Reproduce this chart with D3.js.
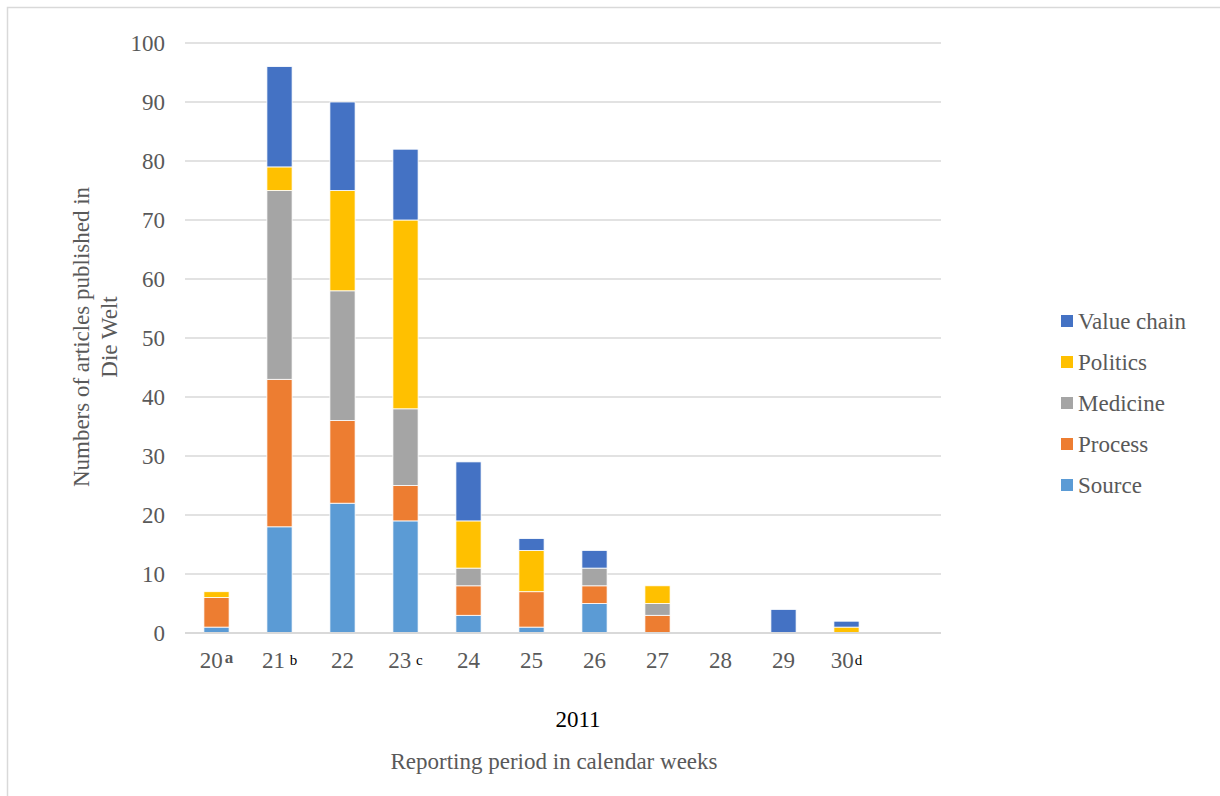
<!DOCTYPE html>
<html>
<head>
<meta charset="utf-8">
<script src="https://cdn.jsdelivr.net/npm/d3@7"></script>
<style>
  html, body { margin: 0; padding: 0; background: #fff; }
  svg { display: block; }
</style>
</head>
<body>
<svg id="chart" width="1220" height="796"></svg>
<script>
// Calendar weeks of 2011 (the last slot is left empty on the axis)
const weeks = ["20", "21", "22", "23", "24", "25", "26", "27", "28", "29", "30", "31"];
const weekNotes = ["a", "b", "", "c", "", "", "", "", "", "", "d", ""];
const weekLabels = ["20", "21", "22", "23", "24", "25", "26", "27", "28", "29", "30", ""];

// Articles per topic and week (stacked bottom to top)
const source     = [1, 18, 22, 19, 3, 1, 5, 0, 0, 0, 0, 0];
const process    = [5, 25, 14, 6, 5, 6, 3, 3, 0, 0, 0, 0];
const medicine   = [0, 32, 22, 13, 3, 0, 3, 2, 0, 0, 0, 0];
const politics   = [1, 4, 17, 32, 8, 7, 0, 3, 0, 0, 1, 0];
const valueChain = [0, 17, 15, 12, 10, 2, 3, 0, 0, 4, 1, 0];

const seriesNames = ["Source", "Process", "Medicine", "Politics", "Value chain"];
const seriesColors = ["#5B9BD5", "#ED7D31", "#A5A5A5", "#FFC000", "#4472C4"];
const yTicks = [0, 10, 20, 30, 40, 50, 60, 70, 80, 90, 100];

const FONT = "'Liberation Serif', 'Times New Roman', serif";
const FS = "23px";

const seriesValues = [source, process, medicine, politics, valueChain];
const rows = weeks.map((w, i) => {
  const r = { week: w };
  seriesNames.forEach((s, k) => { r[s] = seriesValues[k][i]; });
  return r;
});

const svg = d3.select("#chart").style("font-family", FONT);

// outer frame
svg.append("path")
  .attr("d", "M7.5,796 L7.5,7.5 L1220,7.5")
  .attr("fill", "none").attr("stroke", "#D9D9D9").attr("stroke-width", 1.5);

const plot = { left: 185, right: 941, top: 43, bottom: 633 };

const x = d3.scaleBand().domain(weeks).range([plot.left, plot.right]).paddingInner(0.6).paddingOuter(0.3);
const y = d3.scaleLinear().domain([0, 100]).range([plot.bottom, plot.top]);

// gridlines
svg.append("g")
  .selectAll("line").data(yTicks.filter(t => t > 0)).join("line")
  .attr("x1", plot.left).attr("x2", plot.right)
  .attr("y1", d => y(d)).attr("y2", d => y(d))
  .attr("stroke", "#D9D9D9").attr("stroke-width", 1.5);

// y axis labels
const yAxis = svg.append("g")
  .attr("transform", `translate(${plot.left},0)`)
  .call(d3.axisLeft(y).tickValues(yTicks).tickSize(0).tickPadding(20))
  .attr("font-family", null).attr("font-size", null);
yAxis.select(".domain").remove();
yAxis.selectAll("text")
  .attr("fill", "#595959").style("font-size", FS)
  .style("font-family", FONT);

// stacked bars
const stack = d3.stack().keys(seriesNames);
const layers = stack(rows);
const color = d3.scaleOrdinal().domain(seriesNames).range(seriesColors);

svg.append("g").selectAll("g").data(layers).join("g")
  .attr("fill", d => color(d.key))
  .selectAll("rect").data(d => d.filter(p => p[1] - p[0] > 0)).join("rect")
  .attr("x", d => x(d.data.week))
  .attr("width", x.bandwidth())
  .attr("y", d => y(d[1]))
  .attr("height", d => y(d[0]) - y(d[1]))
  .attr("stroke", "#ffffff").attr("stroke-width", 0.8);

// baseline
svg.append("line")
  .attr("x1", plot.left).attr("x2", plot.right)
  .attr("y1", y(0)).attr("y2", y(0))
  .attr("stroke", "#D9D9D9").attr("stroke-width", 2);

// x axis labels with footnote marks
const xAxis = svg.append("g")
  .attr("transform", `translate(0,${plot.bottom})`)
  .call(d3.axisBottom(x).tickSize(0).tickPadding(0).tickFormat(() => ""))
  .attr("font-family", null).attr("font-size", null);
xAxis.select(".domain").remove();
xAxis.selectAll(".tick text").each(function (d, i) {
  const t = d3.select(this)
    .attr("fill", "#595959").style("font-size", FS).style("font-family", FONT)
    .attr("text-anchor", "middle").attr("y", 35).attr("dy", 0);
  t.append("tspan").text(weekLabels[i]);
  if (weekNotes[i]) {
    const bold = weekNotes[i] === "a";
    t.append("tspan").text((bold || weekNotes[i] === "d" ? "" : " ") + weekNotes[i])
      .attr("fill", bold ? "#595959" : "#000").style("font-size", bold ? "17px" : "15px")
      .style("font-weight", bold ? "bold" : "normal")
      .attr("dx", bold ? 2 : 1)
      .attr("dy", bold ? "-0.3em" : "-0.2em");
  }
});

// x axis titles
svg.append("text")
  .attr("x", 578).attr("y", 727)
  .attr("text-anchor", "middle").attr("fill", "#000").style("font-size", FS)
  .text("2011");
svg.append("text")
  .attr("x", 554).attr("y", 769)
  .attr("text-anchor", "middle").attr("fill", "#595959").style("font-size", FS)
  .text("Reporting period in calendar weeks");

// y axis title (two lines)
const yTitle = svg.append("text")
  .attr("transform", "translate(89,337) rotate(-90)")
  .attr("text-anchor", "middle").attr("fill", "#595959").style("font-size", FS);
yTitle.append("tspan").attr("x", 0).attr("dy", 0).text("Numbers of articles published in");
yTitle.append("tspan").attr("x", 0).attr("dy", 28).text("Die Welt");

// legend (top-to-bottom reverses the stack order)
const legendItems = seriesNames.slice().reverse();
const legend = svg.append("g").attr("transform", "translate(1061,321)");
const li = legend.selectAll("g").data(legendItems).join("g")
  .attr("transform", (d, i) => `translate(0,${i * 41})`);
li.append("rect")
  .attr("x", 0).attr("y", -6).attr("width", 12).attr("height", 12)
  .attr("fill", d => color(d));
li.append("text")
  .attr("x", 17).attr("y", 0).attr("dy", "0.35em")
  .attr("fill", "#595959").style("font-size", FS)
  .text(d => d);
</script>
</body>
</html>
